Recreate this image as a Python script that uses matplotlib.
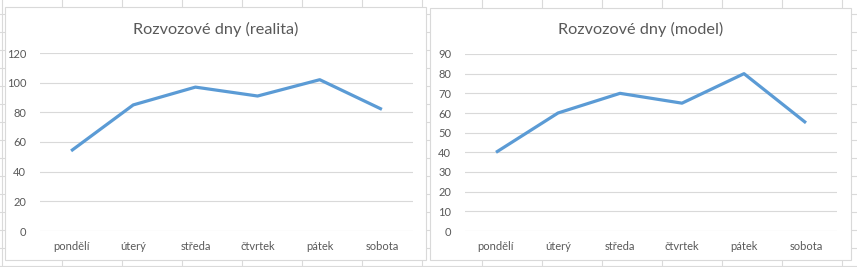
import numpy as np
import matplotlib
matplotlib.use('Agg')
import matplotlib.pyplot as plt
from matplotlib.patches import Rectangle
from matplotlib.lines import Line2D

plt.rcParams['font.family'] = ['Lato', 'DejaVu Sans']

# Data
days = ['pondělí', 'úterý', 'středa', 'čtvrtek', 'pátek', 'sobota']
realita = [54, 85, 97, 91, 102, 82]
model = [40, 60, 70, 65, 80, 55]

W, H = 857, 267
fig = plt.figure(figsize=(W / 100, H / 100), dpi=100)

def fx(px):
    return px / W

def fy(py):
    return 1 - py / H

# spreadsheet cell grid behind the charts
cell_col = '#dadada'
for xv in np.arange(2, W, 60):
    fig.add_artist(Line2D([fx(xv), fx(xv)], [0, 1], color=cell_col, lw=0.8, zorder=0))
for yv in np.arange(14.3, H, 18):
    fig.add_artist(Line2D([0, 1], [fy(yv), fy(yv)], color=cell_col, lw=0.8, zorder=0))

text_col = '#595959'
grid_col = '#d9d9d9'
line_col = '#5b9bd5'

def chart(box, area, values, title, ymax, step):
    x0, y0, x1, y1 = box
    fig.add_artist(Rectangle((fx(x0), fy(y1)), fx(x1 - x0), (y1 - y0) / H,
                             facecolor='white', edgecolor=grid_col, lw=0.8, zorder=1))
    ax0, ay0, ax1, ay1 = area
    ax = fig.add_axes([fx(ax0), fy(ay1), fx(ax1 - ax0), (ay1 - ay0) / H], zorder=2)
    ax.patch.set_visible(False)
    ax.plot(range(len(days)), values, color=line_col, lw=2.3, solid_capstyle='butt')
    ax.set_xlim(-0.5, len(days) - 0.5)
    ax.set_ylim(0, ymax)
    ax.set_yticks(np.arange(0, ymax + 1, step))
    ax.set_xticks(range(len(days)))
    ax.set_xticklabels(days)
    ax.grid(axis='y', color=grid_col, lw=0.8)
    ax.set_axisbelow(True)
    for s in ax.spines.values():
        s.set_visible(False)
    ax.tick_params(length=0, colors=text_col, labelsize=8)
    ax.tick_params(axis='y', pad=10)
    ax.tick_params(axis='x', pad=7)
    fig.text(fx((x0 + x1) / 2), fy(29), title, ha='center', va='center',
             fontsize=11.7, color=text_col, zorder=3)

chart((5, 7, 426, 260), (40, 53, 413, 231), realita, 'Rozvozové dny (realita)', 120, 20)
chart((430, 8, 851, 260), (465, 54, 837, 231), model, 'Rozvozové dny (model)', 90, 10)

fig.savefig('out.png', dpi=100)
